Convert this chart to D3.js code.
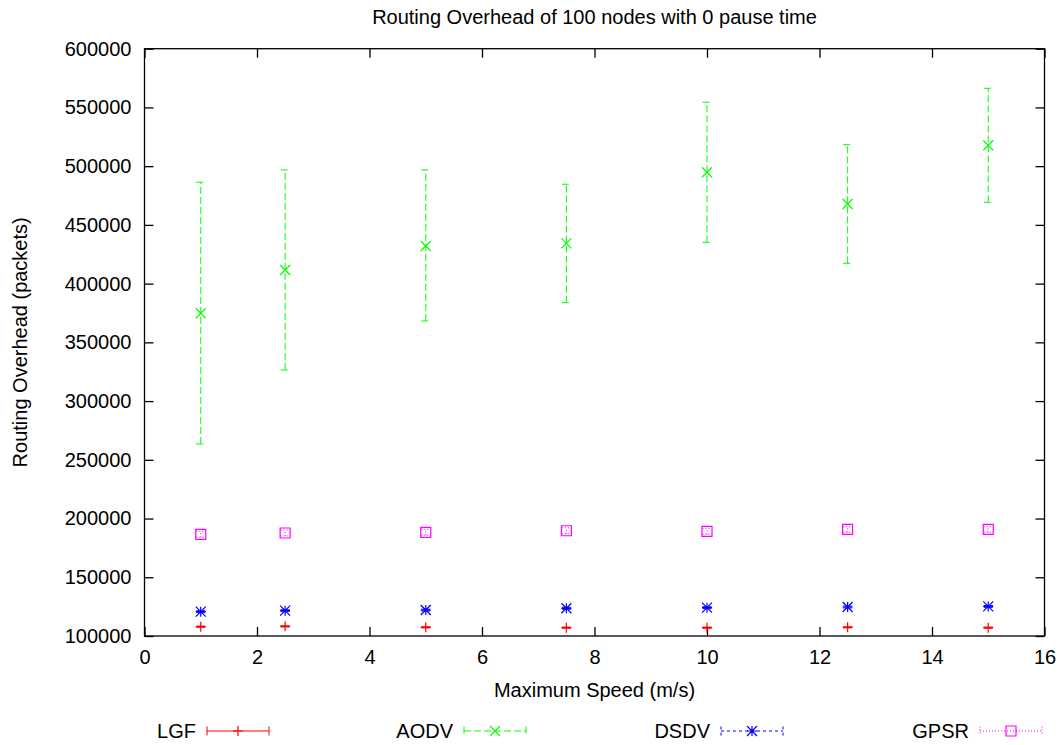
<!DOCTYPE html>
<html>
<head>
<meta charset="utf-8">
<script src="https://cdn.jsdelivr.net/npm/d3@7"></script>
<style>
  html, body { margin: 0; padding: 0; background: #fff; }
  svg { display: block; font-family: "Liberation Sans", Arial, sans-serif; }
</style>
</head>
<body>
<svg id="chart" width="1062" height="745"></svg>
<script>
// Maximum node speed (m/s) for each simulation run
const speeds = [1, 2.5, 5, 7.5, 10, 12.5, 15];

// Routing overhead (packets): mean with lower / upper error bounds
const lgfMean  = [107900, 108200, 107400, 107100, 107100, 107400, 107100];
const lgfLow   = [107400, 107700, 106900, 106600, 106600, 106900, 106600];
const lgfHigh  = [108400, 108700, 107900, 107600, 107600, 107900, 107600];

const aodvMean = [374800, 411600, 432000, 434300, 494800, 467800, 517800];
const aodvLow  = [263500, 326500, 368200, 383800, 435200, 417300, 469200];
const aodvHigh = [486300, 496800, 496800, 484600, 554400, 518300, 566300];

const dsdvMean = [120700, 121600, 122100, 123600, 124100, 124700, 125200];
const dsdvLow  = [119900, 120800, 121300, 122800, 123300, 123900, 124400];
const dsdvHigh = [121500, 122400, 122900, 124400, 124900, 125500, 126000];

const gpsrMean = [186600, 187700, 188300, 189600, 189100, 190800, 190800];
const gpsrLow  = [184100, 185200, 185800, 187100, 186600, 188300, 188300];
const gpsrHigh = [189100, 190200, 190800, 192100, 191600, 193300, 193300];

const xTicks = [0, 2, 4, 6, 8, 10, 12, 14, 16];
const yTicks = [100000, 150000, 200000, 250000, 300000, 350000, 400000, 450000, 500000, 550000, 600000];

const titleText = "Routing Overhead of 100 nodes with 0 pause time";
const xLabel = "Maximum Speed (m/s)";
const yLabel = "Routing Overhead (packets)";

const seriesNames = ["LGF", "AODV", "DSDV", "GPSR"];

// ---- layout ----
const plot = { left: 144.5, right: 1044.5, top: 48.7, bottom: 636 };
const FONT = 20;

const svg = d3.select("#chart");

const x = d3.scaleLinear().domain([0, 16]).range([plot.left, plot.right]);
const y = d3.scaleLinear().domain([100000, 600000]).range([plot.bottom, plot.top]);

const series = [
  { name: seriesNames[0], color: "#ff0000", mean: lgfMean,  low: lgfLow,  high: lgfHigh,  dash: null,   marker: "plus" },
  { name: seriesNames[1], color: "#00ff00", mean: aodvMean, low: aodvLow, high: aodvHigh, dash: "7,3",  marker: "cross" },
  { name: seriesNames[2], color: "#0000ff", mean: dsdvMean, low: dsdvLow, high: dsdvHigh, dash: "3,3",  marker: "star" },
  { name: seriesNames[3], color: "#ff00ff", mean: gpsrMean, low: gpsrLow, high: gpsrHigh, dash: "1,2",  marker: "box" }
];

const R = 5; // marker half-size
function markerPath(kind) {
  switch (kind) {
    case "plus":  return `M${-R},0H${R}M0,${-R}V${R}`;
    case "cross": return `M${-R},${-R}L${R},${R}M${-R},${R}L${R},${-R}`;
    case "star":  return `M${-R},0H${R}M0,${-R}V${R}M${-R},${-R}L${R},${R}M${-R},${R}L${R},${-R}`;
    case "box":   return `M${-R},${-R}H${R}V${R}H${-R}Z`;
  }
}

// ---- frame and axes (ticks point inward, mirrored on top/right) ----
const TICK = 9;
const axisFont = g => g.selectAll("text")
  .attr("font-size", FONT).attr("fill", "#000")
  .attr("font-family", '"Liberation Sans", Arial, sans-serif');

const gx = svg.append("g")
  .attr("transform", `translate(0,${plot.bottom})`)
  .call(d3.axisBottom(x).tickValues(xTicks).tickFormat(d3.format("d"))
    .tickSizeInner(-TICK).tickSizeOuter(0).tickPadding(14));
gx.call(axisFont);
gx.selectAll("text").attr("dy", "0.71em");

const gy = svg.append("g")
  .attr("transform", `translate(${plot.left},0)`)
  .call(d3.axisLeft(y).tickValues(yTicks).tickFormat(d3.format("d"))
    .tickSizeInner(-TICK).tickSizeOuter(0).tickPadding(13));
gy.call(axisFont);

svg.append("g")
  .attr("transform", `translate(0,${plot.top})`)
  .call(d3.axisTop(x).tickValues(xTicks).tickFormat("").tickSizeInner(-TICK).tickSizeOuter(0));
svg.append("g")
  .attr("transform", `translate(${plot.right},0)`)
  .call(d3.axisRight(y).tickValues(yTicks).tickFormat("").tickSizeInner(-TICK).tickSizeOuter(0));

svg.selectAll(".domain").remove();
svg.selectAll(".tick line").attr("stroke", "#000").attr("stroke-width", 1.3);

svg.append("rect")
  .attr("x", plot.left).attr("y", plot.top)
  .attr("width", plot.right - plot.left).attr("height", plot.bottom - plot.top)
  .attr("fill", "none").attr("stroke", "#000").attr("stroke-width", 1.3);

// ---- titles ----
svg.append("text")
  .attr("x", (plot.left + plot.right) / 2).attr("y", 24)
  .attr("text-anchor", "middle").attr("font-size", FONT)
  .text(titleText);

svg.append("text")
  .attr("x", (plot.left + plot.right) / 2).attr("y", 697)
  .attr("text-anchor", "middle").attr("font-size", FONT)
  .text(xLabel);

svg.append("text")
  .attr("transform", `translate(27,${(plot.top + plot.bottom) / 2}) rotate(-90)`)
  .attr("text-anchor", "middle").attr("font-size", FONT)
  .text(yLabel);

// ---- error bars and markers ----
const CAP = 4.5;
series.forEach(s => {
  const g = svg.append("g").attr("stroke", s.color).attr("fill", "none").attr("stroke-width", 1);
  speeds.forEach((sp, i) => {
    const cx = x(sp);
    const bar = g.append("path")
      .attr("d", `M${cx},${y(s.low[i])}V${y(s.high[i])}` +
                 `M${cx - CAP},${y(s.low[i])}H${cx + CAP}` +
                 `M${cx - CAP},${y(s.high[i])}H${cx + CAP}`);
    if (s.dash) bar.attr("stroke-dasharray", s.dash);
    g.append("path")
      .attr("transform", `translate(${cx},${y(s.mean[i])})`)
      .attr("d", markerPath(s.marker))
      .attr("stroke-width", 1.2);
  });
});

// ---- key ----
const keyY = 731;
const keyTextEnd = [196, 453, 710, 969];
series.forEach((s, i) => {
  const tx = keyTextEnd[i];
  svg.append("text")
    .attr("x", tx).attr("y", keyY).attr("dy", "0.35em")
    .attr("text-anchor", "end").attr("font-size", FONT)
    .text(s.name);
  const x0 = tx + 11, x1 = tx + 73, xm = (x0 + x1) / 2;
  const g = svg.append("g").attr("stroke", s.color).attr("fill", "none").attr("stroke-width", 1);
  const ln = g.append("path")
    .attr("d", `M${x0},${keyY}H${x1}M${x0},${keyY - CAP}V${keyY + CAP}M${x1},${keyY - CAP}V${keyY + CAP}`);
  if (s.dash) ln.attr("stroke-dasharray", s.dash);
  g.append("path")
    .attr("transform", `translate(${xm},${keyY})`)
    .attr("d", markerPath(s.marker))
    .attr("stroke-width", 1.2);
});
</script>
</body>
</html>
